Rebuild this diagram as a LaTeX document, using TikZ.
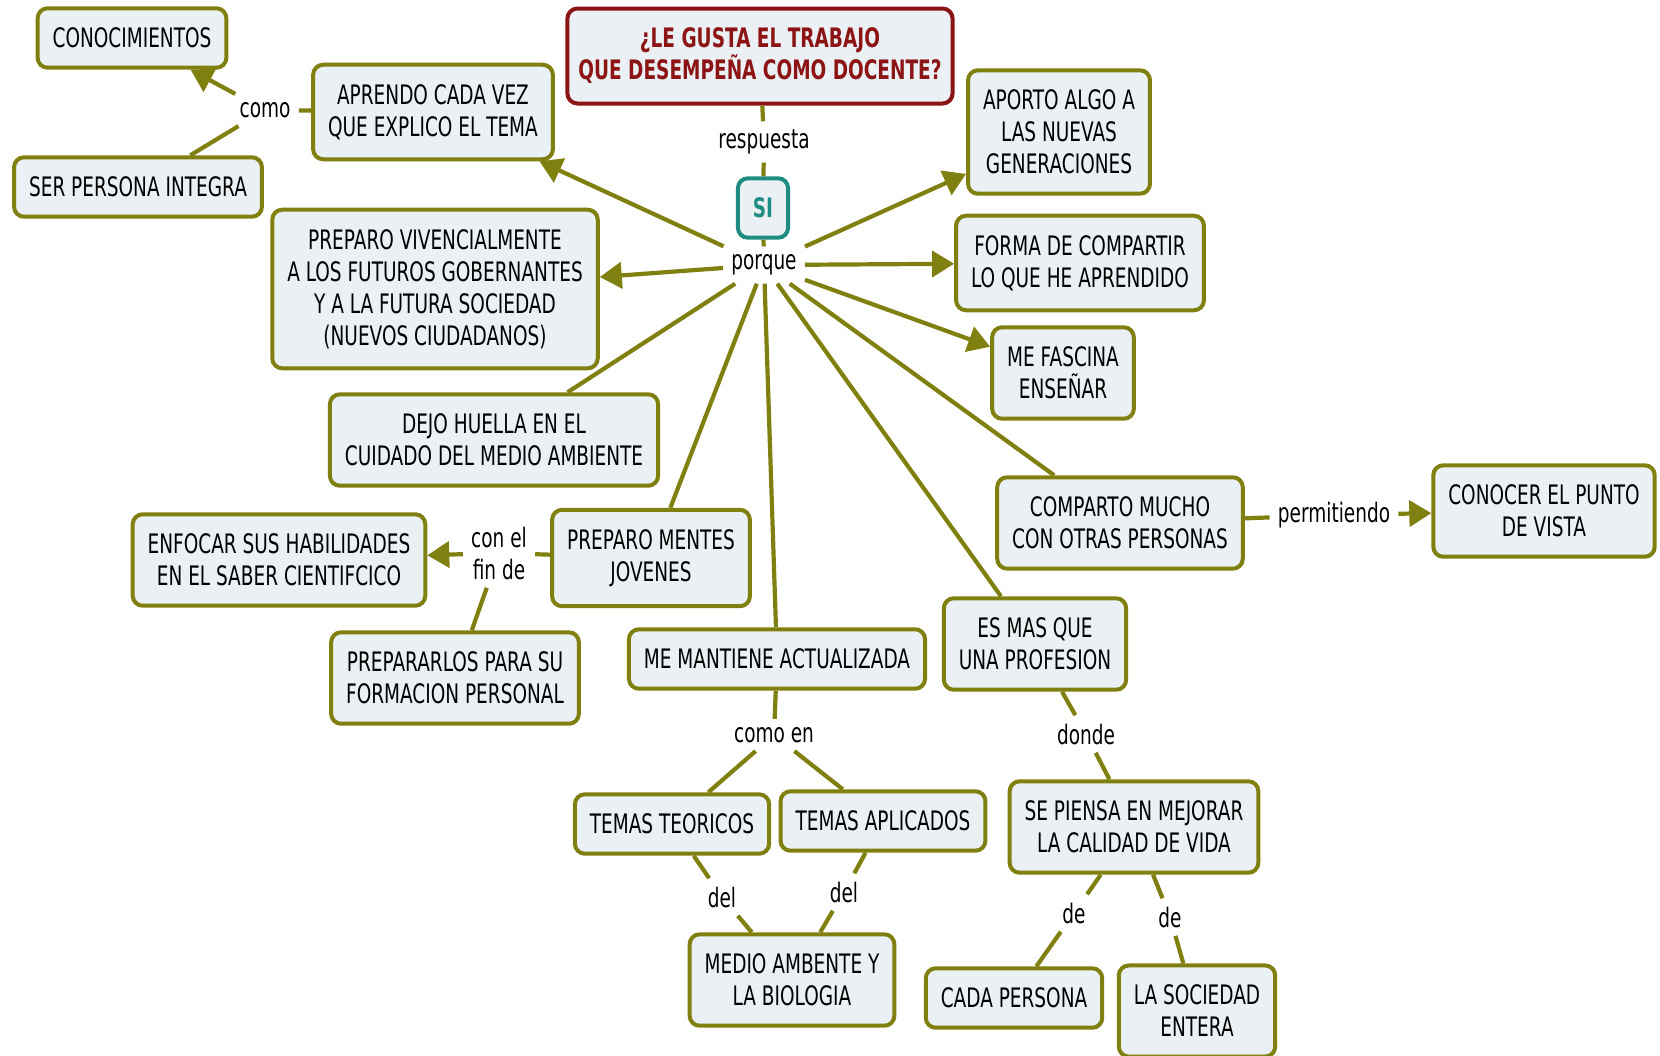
\documentclass[tikz,border=0pt]{standalone}
\usepackage{fontspec}
\setmainfont[FakeStretch=0.69]{DejaVu Sans}
\usetikzlibrary{arrows.meta}
\definecolor{map-olive}{RGB}{128,128,16}
\definecolor{map-fill}{RGB}{234,240,243}
\definecolor{map-red}{RGB}{140,20,20}
\definecolor{map-teal}{RGB}{30,140,130}

\begin{document}
\begin{tikzpicture}[x=0.5pt,y=-0.5pt,
    concept/.style={draw=map-olive, fill=map-fill, line width=2pt, rounded corners=5pt,
      align=center, inner xsep=7.5pt, inner ysep=9.8pt, font=\fontsize{13.4}{16}\selectfont},
    link/.style={align=center, inner sep=4pt, font=\fontsize{13.4}{16}\selectfont},
    conn/.style={draw=map-olive, line width=2.1pt},
    arr/.style={conn, -{Triangle[length=11pt,width=13pt]}}]
\fill[white] (0,0) rectangle (1660,1055);
\useasboundingbox (0,0) rectangle (1660,1055);

% pregunta y respuesta
\node[concept, inner xsep=5.5pt, draw=map-red, text=map-red, font=\fontsize{13.4}{16}\selectfont\bfseries] (title) at (760,56) {¿LE GUSTA EL TRABAJO\\QUE DESEMPEÑA COMO DOCENTE?};
\node[link] (resp) at (764,142) {respuesta};
\node[concept, draw=map-teal, text=map-teal, font=\fontsize{13.4}{16}\selectfont\bfseries] (si) at (763,208) {SI};
\node[link] (porque) at (764,265) {porque};

% izquierda
\node[concept] (conoc) at (132,38) {CONOCIMIENTOS};
\node[link] (como) at (265,110) {como};
\node[concept] (aprendo) at (433,112) {APRENDO CADA VEZ\\QUE EXPLICO EL TEMA};
\node[concept] (ser) at (138,187) {SER PERSONA INTEGRA};
\node[concept] (vivenc) at (435,289) {PREPARO VIVENCIALMENTE\\A LOS FUTUROS GOBERNANTES\\Y A LA FUTURA SOCIEDAD\\(NUEVOS CIUDADANOS)};
\node[concept] (huella) at (494,440) {DEJO HUELLA EN EL\\CUIDADO DEL MEDIO AMBIENTE};
\node[concept] (enfocar) at (279,560) {ENFOCAR SUS HABILIDADES\\EN EL SABER CIENTIFCICO};
\node[link] (finde) at (499,553) {con el\\fin de};
\node[concept] (mentes) at (651,558) {PREPARO MENTES\\JOVENES};
\node[concept] (prepar) at (455,678) {PREPARARLOS PARA SU\\FORMACION PERSONAL};

% abajo
\node[concept] (mantiene) at (777,659) {ME MANTIENE ACTUALIZADA};
\node[link] (comoen) at (774,735) {como en};
\node[concept] (teoricos) at (672,824) {TEMAS TEORICOS};
\node[concept] (aplicados) at (883,821) {TEMAS APLICADOS};
\node[link] (delA) at (722,897) {del};
\node[link] (delB) at (844,892) {del};
\node[concept] (medio) at (792,980) {MEDIO AMBENTE Y\\LA BIOLOGIA};

% derecha
\node[concept] (aporto) at (1059,132) {APORTO ALGO A\\LAS NUEVAS\\GENERACIONES};
\node[concept] (forma) at (1080,263) {FORMA DE COMPARTIR\\LO QUE HE APRENDIDO};
\node[concept] (fascina) at (1063,373) {ME FASCINA\\ENSEÑAR};
\node[concept] (comparto) at (1120,523) {COMPARTO MUCHO\\CON OTRAS PERSONAS};
\node[link] (permit) at (1334,515) {permitiendo};
\node[concept] (conocer) at (1544,511) {CONOCER EL PUNTO\\DE VISTA};
\node[concept] (esmas) at (1035,644) {ES MAS QUE\\UNA PROFESION};
\node[link] (donde) at (1086,734) {donde};
\node[concept] (piensa) at (1134,827) {SE PIENSA EN MEJORAR\\LA CALIDAD DE VIDA};
\node[link] (deA) at (1074,913) {de};
\node[link] (deB) at (1170,917) {de};
\node[concept] (cada) at (1014,998) {CADA PERSONA};
\node[concept] (sociedad) at (1197,1011) {LA SOCIEDAD\\ENTERA};

% conectores
\draw[conn] (title) -- (resp);
\draw[conn] (resp) -- (si);
\draw[conn] (si) -- (porque);
\draw[arr] (porque) -- (aprendo);
\draw[arr] (porque) -- (vivenc);
\draw[arr] (porque) -- (aporto);
\draw[arr] (porque) -- (forma);
\draw[arr] (porque) -- (fascina);
\draw[conn] (porque) -- (huella);
\draw[conn] (porque) -- (mentes);
\draw[conn] (porque) -- (mantiene);
\draw[conn] (porque) -- (esmas);
\draw[conn] (porque) -- (comparto);

\draw[conn] (aprendo) -- (como);
\draw[arr] (como) -- (conoc);
\draw[conn] (como) -- (ser);

\draw[conn] (mentes) -- (finde);
\draw[arr] (finde) -- (enfocar);
\draw[conn] (finde) -- (prepar);

\draw[conn] (mantiene) -- (comoen);
\draw[conn] (comoen) -- (teoricos);
\draw[conn] (comoen) -- (aplicados);
\draw[conn] (teoricos) -- (delA);
\draw[conn] (delA) -- (medio);
\draw[conn] (aplicados) -- (delB);
\draw[conn] (delB) -- (medio);

\draw[conn] (esmas) -- (donde);
\draw[conn] (donde) -- (piensa);
\draw[conn] (piensa) -- (deA);
\draw[conn] (deA) -- (cada);
\draw[conn] (piensa) -- (deB);
\draw[conn] (deB) -- (sociedad);

\draw[conn] (comparto) -- (permit);
\draw[arr] (permit) -- (conocer);
\end{tikzpicture}
\end{document}
